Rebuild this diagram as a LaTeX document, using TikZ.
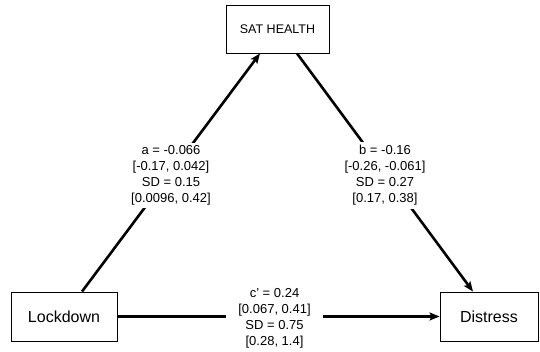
\documentclass[tikz,border=0pt]{standalone}
\usepackage{fontspec}
\setmainfont{Liberation Sans}
\usetikzlibrary{arrows.meta}
\begin{document}
\begin{tikzpicture}[x=1pt,y=-1pt,
  box/.style={draw,line width=0.9pt,minimum height=49pt,inner sep=0pt},
  path/.style={line width=2.6pt,-{Stealth[length=10pt,width=8pt,inset=2pt]}},
  lab/.style={fill=white,align=center,font=\fontsize{13pt}{16pt}\selectfont,inner xsep=12pt,inner ysep=3pt}]
\useasboundingbox (0,0) rectangle (540,352);
\node[box,minimum width=106pt,font=\fontsize{16pt}{19pt}\selectfont] (lock) at (64,316.5) {Lockdown};
\node[box,minimum width=98pt,font=\fontsize{16pt}{19pt}\selectfont] (dis) at (489,316.5) {Distress};
\node[box,minimum width=103pt,minimum height=48pt,font=\fontsize{12.5pt}{15pt}\selectfont] (sat) at (277.5,29) {SAT HEALTH};
\draw[path] ([xshift=18pt]lock.north) -- node[lab,yshift=-3pt]{a = -0.066\\{}[-0.17, 0.042]\\SD = 0.15\\{}[0.0096, 0.42]} ([xshift=-17.5pt]sat.south);
\draw[path] ([xshift=19.5pt]sat.south) -- node[lab,yshift=-3pt]{b = -0.16\\{}[-0.26, -0.061]\\SD = 0.27\\{}[0.17, 0.38]} ([xshift=-16pt]dis.north);
\draw[path] (lock.east) -- node[lab,xshift=-4pt,yshift=-2pt]{c' = 0.24\\{}[0.067, 0.41]\\SD = 0.75\\{}[0.28, 1.4]} (dis.west);
\end{tikzpicture}
\end{document}
